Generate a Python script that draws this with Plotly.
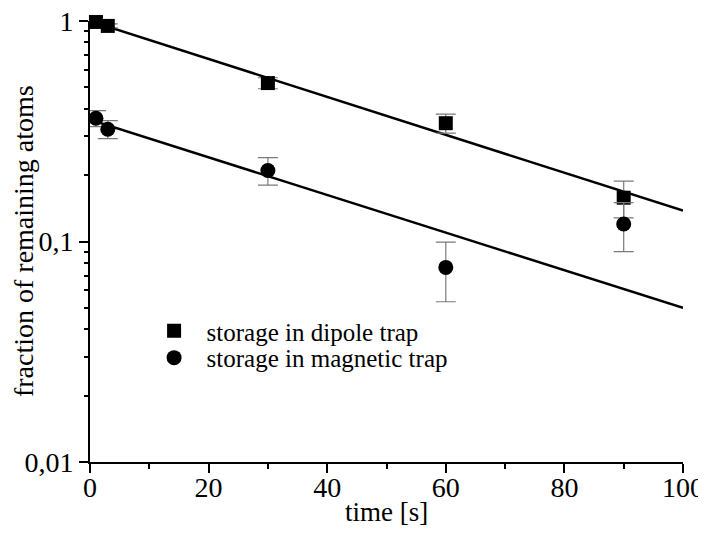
import plotly.graph_objects as go

# Data
time_dipole = [1, 3, 30, 60, 90]
frac_dipole = [0.99, 0.95, 0.523, 0.344, 0.158]
err_dipole = [0.02, 0.02, 0.03, 0.034, 0.03]

time_magnetic = [1, 3, 30, 60, 90]
frac_magnetic = [0.362, 0.323, 0.21, 0.0763, 0.12]
err_magnetic = [0.03, 0.03, 0.03, 0.023, 0.03]

# Exponential fit lines (straight on log axis), endpoints
fit_time = [0, 100]
fit_dipole = [1.0, 0.138]
fit_magnetic = [0.357, 0.050]

x_tickvals = [0, 20, 40, 60, 80, 100]
x_ticktext = ["0", "20", "40", "60", "80", "100"]
x_minor = [10, 30, 50, 70, 90]
y_tickvals = [0.01, 0.1, 1]
y_ticktext = ["0,01", "0,1", "1"]
y_minor = [m * d for d in (0.01, 0.1) for m in range(2, 10)]

x_title = "time [s]"
y_title = "fraction of remaining atoms"

FONT = "Liberation Serif"
ERR_COLOR = "#7a7a7a"

fig = go.Figure()

fig.add_trace(go.Scatter(
    x=fit_time, y=fit_dipole, mode="lines",
    line=dict(color="black", width=2.5), showlegend=False, hoverinfo="skip"))
fig.add_trace(go.Scatter(
    x=fit_time, y=fit_magnetic, mode="lines",
    line=dict(color="black", width=2.5), showlegend=False, hoverinfo="skip"))

fig.add_trace(go.Scatter(
    x=time_dipole, y=frac_dipole, mode="markers",
    name="storage in dipole trap", legend="legend",
    marker=dict(symbol="square", size=14, color="black"),
    error_y=dict(type="data", array=err_dipole, visible=True,
                 color=ERR_COLOR, thickness=1.2, width=10),
    cliponaxis=False))
fig.add_trace(go.Scatter(
    x=time_magnetic, y=frac_magnetic, mode="markers",
    name="storage in magnetic trap", legend="legend2",
    marker=dict(symbol="circle", size=15, color="black"),
    error_y=dict(type="data", array=err_magnetic, visible=True,
                 color=ERR_COLOR, thickness=1.2, width=10),
    cliponaxis=False))

leg_common = dict(xanchor="left", yanchor="middle", bgcolor="rgba(0,0,0,0)",
                  font=dict(size=25, family=FONT, color="black"),
                  itemsizing="trace", itemwidth=55, borderwidth=0)

# The page body has an 8px margin, so the figure is drawn 8px smaller
fig.update_layout(
    width=698, height=537,
    margin=dict(l=82, r=23, t=13, b=83, autoexpand=False),
    paper_bgcolor="white", plot_bgcolor="white",
    font=dict(family=FONT, color="black", size=24),
    legend=dict(x=0.087, y=0.297, **leg_common),
    legend2=dict(x=0.087, y=0.236, **leg_common),
    annotations=[
        dict(text=x_title, xref="paper", yref="paper", x=0.5, y=-0.113,
             xanchor="center", yanchor="middle", showarrow=False,
             font=dict(size=27, family=FONT, color="black")),
        dict(text=y_title, xref="paper", yref="paper", x=-0.112, y=0.5,
             xanchor="center", yanchor="middle", showarrow=False, textangle=-90,
             font=dict(size=28, family=FONT, color="black")),
    ],
)

fig.update_xaxes(
    range=[0, 100], showgrid=False, zeroline=False, automargin=False,
    showline=True, linecolor="black", linewidth=2,
    tickmode="array", tickvals=x_tickvals, ticktext=x_ticktext,
    ticks="outside", ticklen=9, tickwidth=2, tickcolor="black",
    tickfont=dict(size=28, family=FONT),
    ticklabeloverflow="allow", ticklabelstandoff=-10,
    minor=dict(tickmode="array", tickvals=x_minor,
               ticks="outside", ticklen=5, tickwidth=2, tickcolor="black"),
)
fig.update_yaxes(
    type="log", range=[-2, 0], showgrid=False, zeroline=False, automargin=False,
    showline=True, linecolor="black", linewidth=2,
    tickmode="array", tickvals=y_tickvals, ticktext=y_ticktext,
    ticks="outside", ticklen=9, tickwidth=2, tickcolor="black",
    tickfont=dict(size=28, family=FONT),
    ticklabeloverflow="allow",
    minor=dict(tickmode="array", tickvals=y_minor,
               ticks="outside", ticklen=4, tickwidth=2, tickcolor="black"),
)

fig.write_html("out.html")
